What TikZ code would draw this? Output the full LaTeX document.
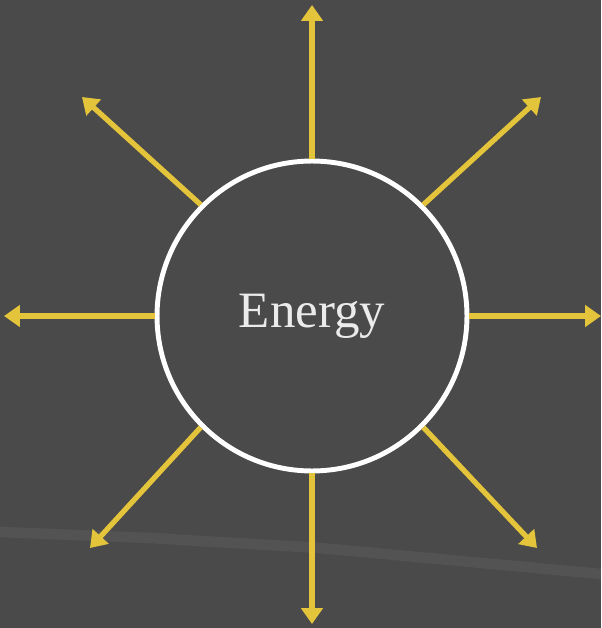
\documentclass[tikz,border=0pt]{standalone}
\usepackage{fontspec}
\setmainfont{Liberation Serif}
\usepackage{xcolor}
\usetikzlibrary{arrows.meta, positioning}

\definecolor{board}{HTML}{4A4A4A}
\definecolor{chalkyellow}{HTML}{E3C43A}

\tikzset{
    ray/.style={line width=3pt, chalkyellow, -{Triangle[length=9pt, width=12pt]}},
}

\begin{document}
\begin{tikzpicture}[x=0.02cm, y=-0.02cm]
    % 1. Bảng đen
    \fill[board] (0,0) rectangle (601,628);
    \useasboundingbox (0,0) rectangle (601,628);
    \draw[white, opacity=0.05, line width=6pt] (0,532) -- (150,538) -- (320,548) -- (601,574);

    % 2. Vòng tròn trung tâm
    \node[circle, draw=white, line width=2.8pt, minimum size=6.2cm, inner sep=0pt,
          text=white!92!black, font=\fontsize{29}{34}\selectfont] (energy) at (312,316)
          {\raisebox{-3pt}{Energy}};

    % 3. Các điểm mút
    \coordinate (tipN) at (312,5);
    \coordinate (tipS) at (312,624);
    \coordinate (tipW) at (4,316);
    \coordinate (tipE) at (601,316);
    \coordinate (tipNW) at (82,97);
    \coordinate (tipNE) at (541,97);
    \coordinate (tipSW) at (90,548);
    \coordinate (tipSE) at (537,548);

    % 4. Các mũi tên
    \draw[ray] (energy.90) -- (tipN);
    \draw[ray] (energy.270) -- (tipS);
    \draw[ray] (energy.180) -- (tipW);
    \draw[ray] (energy.0) -- (tipE);
    \draw[ray] (energy.135) -- (tipNW);
    \draw[ray] (energy.45) -- (tipNE);
    \draw[ray] (energy.225) -- (tipSW);
    \draw[ray] (energy.315) -- (tipSE);
\end{tikzpicture}
\end{document}
